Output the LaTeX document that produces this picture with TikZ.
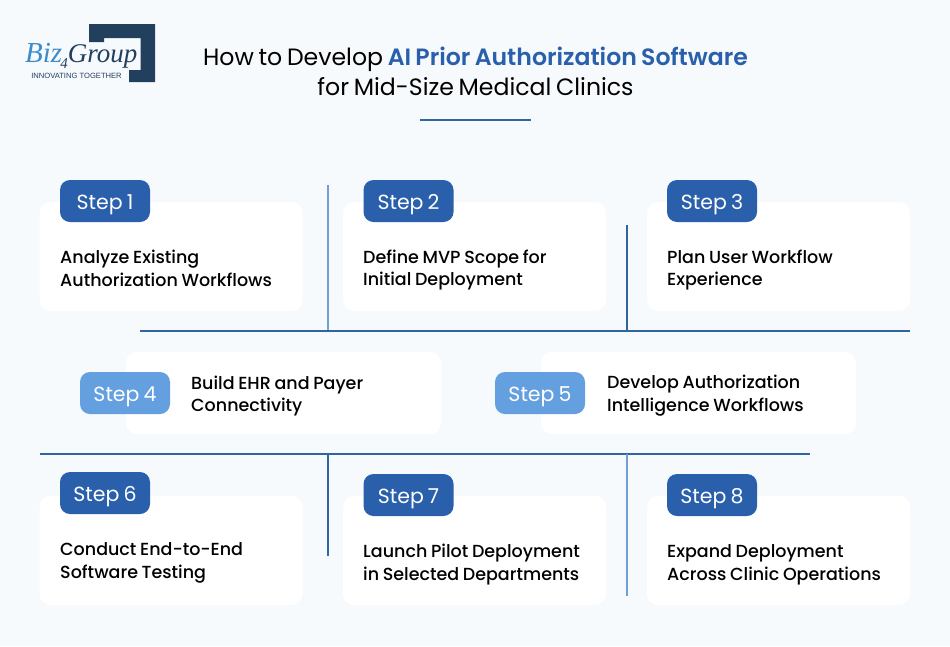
\documentclass[tikz,border=0pt]{standalone}
\usepackage{fontspec}
\setmainfont{Poppins}[UprightFont=* Medium,WordSpace=0.8]
\newfontfamily\headfont{Poppins}[WordSpace=0.75]
\newfontfamily\headbold{Poppins}[UprightFont=* SemiBold,WordSpace=0.75]
\newfontfamily\logofont{Liberation Serif}
\newfontfamily\tagfont{Liberation Sans}
\usepackage{tikz}
\usetikzlibrary{positioning}
\definecolor{pagebg}{HTML}{F7FAFD}
\definecolor{stepdark}{HTML}{2A60AB}
\definecolor{steplight}{HTML}{649FDF}
\definecolor{ruledark}{HTML}{31659F}
\definecolor{rulelight}{HTML}{6F9FD3}
\definecolor{navy}{HTML}{223F5E}
\definecolor{bizblue}{HTML}{3C8BCB}
\definecolor{titleblue}{HTML}{2A60AB}
\tikzstyle{card}=[rectangle,rounded corners=11,fill=white,inner sep=0,minimum height=109,minimum width=263]
\tikzstyle{widecard}=[card,minimum height=82,minimum width=315]
\tikzstyle{stepbox}=[rectangle,rounded corners=10,fill=stepdark,text=white,inner sep=0,minimum height=42,minimum width=90,text height=16,text depth=0,font=\headfont\fontsize{20.5}{24}\selectfont]
\tikzstyle{steplite}=[stepbox,fill=steplight]
\tikzstyle{body}=[align=left,anchor=west,inner sep=0,text=black,font=\fontsize{17.5}{22.8}\selectfont]
\tikzstyle{title}=[align=center,inner sep=0,font=\headfont\fontsize{23.6}{30}\selectfont]
\tikzstyle{hrule}=[draw=ruledark,line width=1.6]
\tikzstyle{vlite}=[draw=rulelight,line width=1.6]
\begin{document}
\begin{tikzpicture}[x=1pt,y=-1pt]
	\useasboundingbox[fill=pagebg] (0,0) rectangle (950,646);

	% logo
	\fill[navy] (89,24) -- (155,24) -- (155,82) -- (129,82) -- (129,70) -- (140.5,70)
		-- (140.5,38) -- (104,38) -- (104,42) -- (89,42) -- cycle;
	\node[inner sep=0,anchor=base west,text=navy,font=\logofont\itshape\fontsize{27}{27}\selectfont] (logo) at (25,62)
		{\textcolor{bizblue}{\fontsize{29}{29}\selectfont Biz}\kern-2pt\raisebox{-6pt}{\fontsize{15}{15}\selectfont 4}\kern0pt Group};
	\node[inner sep=0,text=navy,font=\tagfont\fontsize{7.6}{8}\selectfont] (tag) at (76.5,76)
		{INNOVATING TOGETHER};

	% title
	\node[title] (head) at (475.5,71) {How to Develop \textcolor{titleblue}{\headbold AI Prior Authorization Software}\\
		for Mid-Size Medical Clinics};
	\coordinate (headl) at (420,120);
	\coordinate (headr) at (531,120);
	\draw[hrule] (headl) -- (headr);

	% top row
	\node[card] (card1) at (171,256.5) {};
	\node[card] (card2) at (474.5,256.5) {};
	\node[card] (card3) at (778.5,256.5) {};
	\node[stepbox] (step1) at (105,201) {Step 1};
	\node[stepbox] (step2) at (408.5,201) {Step 2};
	\node[stepbox] (step3) at (712,201) {Step 3};
	\node[body] (txt1) at (60,268) {Analyze Existing\\Authorization Workflows};
	\node[body] (txt2) at (363,270) {Define MVP Scope for\\Initial Deployment};
	\node[body] (txt3) at (667,270) {Plan User Workflow\\Experience};

	% middle row
	\node[widecard] (card4) at (283.5,393) {};
	\node[widecard] (card5) at (698.5,393) {};
	\node[steplite] (step4) at (125,393) {Step 4};
	\node[steplite] (step5) at (540,393) {Step 5};
	\node[body] (txt4) at (191,396) {Build EHR and Payer\\Connectivity};
	\node[body] (txt5) at (607,396) {Develop Authorization\\Intelligence Workflows};

	% bottom row
	\node[card] (card6) at (171,550.5) {};
	\node[card] (card7) at (474.5,550.5) {};
	\node[card] (card8) at (778.5,550.5) {};
	\node[stepbox] (step6) at (105,493) {Step 6};
	\node[stepbox] (step7) at (408.5,495) {Step 7};
	\node[stepbox] (step8) at (712,495) {Step 8};
	\node[body] (txt6) at (60,563) {Conduct End-to-End\\Software Testing};
	\node[body] (txt7) at (363,564.5) {Launch Pilot Deployment\\in Selected Departments};
	\node[body] (txt8) at (667,564.5) {Expand Deployment\\Across Clinic Operations};

	% rules
	\coordinate (r1l) at (140,331);
	\coordinate (r1r) at (910,331);
	\coordinate (r2l) at (40,454);
	\coordinate (r2r) at (810,454);
	\coordinate (v1a) at (328,185);
	\coordinate (v1b) at (328,331);
	\coordinate (v2a) at (627,225);
	\coordinate (v2b) at (627,331);
	\coordinate (v3a) at (328,454);
	\coordinate (v3b) at (328,556);
	\coordinate (v4a) at (627,454);
	\coordinate (v4b) at (627,596);
	\draw[vlite] (v1a) -- (v1b);
	\draw[hrule] (v2a) -- (v2b);
	\draw[hrule] (r1l) -- (r1r);
	\draw[hrule] (r2l) -- (r2r);
	\draw[hrule] (v3a) -- (v3b);
	\draw[vlite] (v4a) -- (v4b);
\end{tikzpicture}
\end{document}
